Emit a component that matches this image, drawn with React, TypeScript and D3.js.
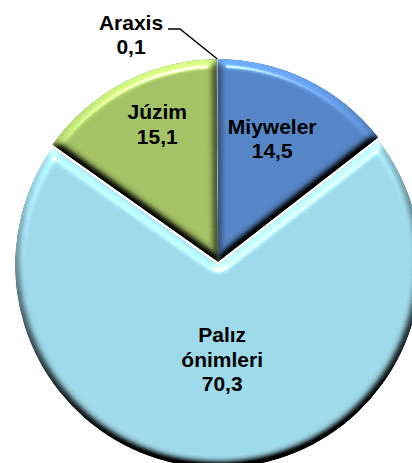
import React from 'react'
import * as d3 from 'd3'

// chart data
const categories = ['Miyweler', 'Palız önimleri', 'Júzim', 'Araxis']
const values = [14.5, 70.3, 15.1, 0.1]
const labelText = [['Miyweler', '14,5'], ['Palız', 'ónimleri', '70,3'], ['Júzim', '15,1'], ['Araxis', '0,1']]
const colors = ['#5585c5', '#9ed8e8', '#a3c165', '#a0a0b4']

// layout
const W = 412
const H = 463
const cx = 218
const cy = 262
const R = 203
const explode = [0, 3, 0, 0]
const labelRadius = [130, 97, 140, 0]
const labelNudge = [[-3, -7], [2, -3], [4, -14], [0, 0]]
const fontSize = 21
const lineH = 24.5

const App = () => {
  const pie = d3.pie<number>().sort(null).value(d => d)
  const arcs = pie(values)
  const arc = d3.arc<d3.PieArcDatum<number>>().innerRadius(0).outerRadius(R)

  const polar = (a: number, r: number): [number, number] => [Math.sin(a) * r, -Math.cos(a) * r]

  const slices = arcs.map((a, i) => {
    const mid = (a.startAngle + a.endAngle) / 2
    const [ox, oy] = polar(mid, explode[i])
    return { a, i, mid, ox, oy }
  })

  // araxis outside label with leader line
  const ara = slices[3]
  const [ex, ey] = polar(ara.mid, R)
  const araLabel = { x: cx - 87, y: 34.5 }
  const elbow = [cx - 38, 29]
  const lineEnd = [cx - 50, 29]

  const textBlock = (lines: string[], x: number, y: number, key: string) => (
    <text key={key} x={x} y={y} textAnchor="middle" fontFamily="'Liberation Sans', Arial, sans-serif"
      fontWeight="bold" fontSize={fontSize} fill="#000">
      {lines.map((t, j) => (
        <tspan key={j} x={x} y={y - ((lines.length - 1) * lineH) / 2 + j * lineH + fontSize * 0.36}>{t}</tspan>
      ))}
    </text>
  )

  return (
    <svg width={W} height={H} style={{ position: 'absolute', left: 0, top: 0 }}>
      <defs>
        <filter id="bevel" x="-10%" y="-10%" width="120%" height="120%" colorInterpolationFilters="sRGB">
          <feGaussianBlur in="SourceAlpha" stdDeviation="4" result="blur" />
          <feDiffuseLighting in="blur" surfaceScale="8" diffuseConstant="1" lightingColor="#fff" result="diff">
            <feDistantLight azimuth="262" elevation="48" />
          </feDiffuseLighting>
          <feSpecularLighting in="blur" surfaceScale="8" specularConstant="1" specularExponent="70" lightingColor="#fff" result="spec">
            <feDistantLight azimuth="262" elevation="48" />
          </feSpecularLighting>
          <feComposite in="SourceGraphic" in2="diff" operator="arithmetic" k1="1.346" k2="0" k3="0" k4="0" result="shaded" />
          <feComposite in="spec" in2="SourceAlpha" operator="in" result="specIn" />
          <feComposite in="shaded" in2="specIn" operator="arithmetic" k1="0" k2="1" k3="0.55" k4="0" result="lit" />
          <feComposite in="lit" in2="SourceAlpha" operator="in" />
        </filter>
      </defs>
      <g transform={`translate(${cx},${cy})`}>
        {slices.map(s => (
          <path key={categories[s.i]} d={arc(s.a) || ''} fill={colors[s.i]} filter="url(#bevel)"
            transform={`translate(${s.ox},${s.oy})`} />
        ))}
      </g>
      <polyline points={`${cx + ex},${cy + ey} ${elbow[0]},${elbow[1]} ${lineEnd[0]},${lineEnd[1]}`}
        fill="none" stroke="#000" strokeWidth={1.5} />
      {slices.slice(0, 3).map(s => {
        const [lx, ly] = polar(s.mid, labelRadius[s.i])
        return textBlock(labelText[s.i], cx + s.ox + lx + labelNudge[s.i][0], cy + s.oy + ly + labelNudge[s.i][1], 'l' + s.i)
      })}
      {textBlock(labelText[3], araLabel.x, araLabel.y, 'l3')}
    </svg>
  )
}

export default App
